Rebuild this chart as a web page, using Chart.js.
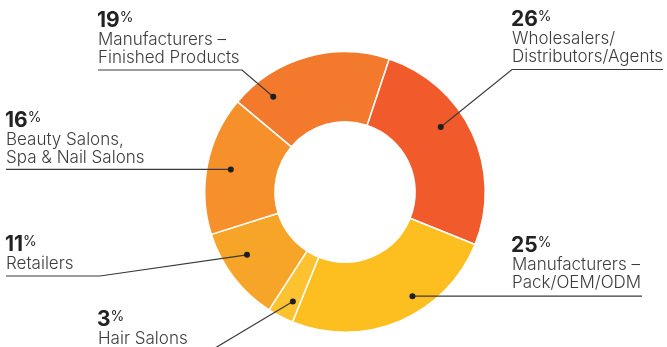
<!DOCTYPE html>
<html>
<head>
<meta charset="utf-8">
<script src="https://cdn.jsdelivr.net/npm/chart.js@4.4.1/dist/chart.umd.min.js"></script>
<style>
  html, body { margin: 0; padding: 0; background: #ffffff; }
  #wrap { width: 667px; height: 347px; position: relative; }
</style>
</head>
<body>
<div id="wrap"><canvas id="c"></canvas></div>
<script>
// ---- data ----
const categories = [
  "Manufacturers – Finished Products",
  "Wholesalers/Distributors/Agents",
  "Manufacturers – Pack/OEM/ODM",
  "Hair Salons",
  "Retailers",
  "Beauty Salons, Spa & Nail Salons"
];
const shares = [19, 26, 25, 3, 11, 16];
const labelLines = [
  ["Manufacturers –", "Finished Products"],
  ["Wholesalers/", "Distributors/Agents"],
  ["Manufacturers –", "Pack/OEM/ODM"],
  ["Hair Salons"],
  ["Retailers"],
  ["Beauty Salons,", "Spa & Nail Salons"]
];
const sliceColors = ["#F37A2D", "#F15A2B", "#FDBF20", "#FCC22F", "#F7A528", "#F5902A"];

// ---- annotation layout (positions only) ----
const annot = [
  { af: 0.19, rf: 0.70, tx: 98,  ny: 27,  path: [[242, 70], [98, 70]] },
  { af: 0.40, rf: 0.65, tx: 512, ny: 26,  path: [[512, 69.5], [663, 69.5]] },
  { af: 0.39, rf: 0.77, tx: 512, ny: 252, path: [[642, 296]] },
  { af: 0.32, rf: 0.73, tx: 98,  ny: 326, path: [[200, 357]] },
  { af: 0.62, rf: 0.66, tx: 6,   ny: 251, path: [[100, 276], [6, 276]] },
  { af: 0.50, rf: 0.66, tx: 6,   ny: 127, path: [[6, 170]] }
];

const FONT = "Inter, 'Liberation Sans', Arial, sans-serif";

const labelPlugin = {
  id: 'calloutLabels',
  afterDatasetsDraw(chart) {
    const ctx = chart.ctx;
    const arcs = chart.getDatasetMeta(0).data;
    ctx.save();
    arcs.forEach((arc, i) => {
      const a = annot[i];
      const p = arc.getProps(['x', 'y', 'startAngle', 'endAngle', 'innerRadius', 'outerRadius'], true);
      const ang = p.startAngle + a.af * (p.endAngle - p.startAngle);
      const r = p.innerRadius + a.rf * (p.outerRadius - p.innerRadius);
      const dx = p.x + Math.cos(ang) * r;
      const dy = p.y + Math.sin(ang) * r;
      // leader line
      ctx.strokeStyle = '#3a3a3a';
      ctx.lineWidth = 1.2;
      ctx.beginPath();
      ctx.moveTo(dx, dy);
      let pts = a.path;
      if (i === 2 || i === 5) pts = [[a.path[0][0], dy]];
      pts.forEach(pt => ctx.lineTo(pt[0], pt[1]));
      ctx.stroke();
      // dot
      ctx.fillStyle = '#1f1f1f';
      ctx.beginPath();
      ctx.arc(dx, dy, 3, 0, Math.PI * 2);
      ctx.fill();
      // number
      ctx.textAlign = 'left';
      ctx.textBaseline = 'alphabetic';
      ctx.fillStyle = '#222222';
      ctx.font = "bold 21px " + FONT;
      const num = String(shares[i]);
      ctx.fillText(num, a.tx - 1, a.ny);
      const w = ctx.measureText(num).width;
      ctx.font = "400 14px " + FONT;
      ctx.fillText('%', a.tx + w - 1, a.ny - 5);
      // label lines
      ctx.fillStyle = '#3c3c3c';
      ctx.font = "300 17px " + FONT;
      labelLines[i].forEach((t, k) => {
        ctx.fillText(t, a.tx, a.ny + 18 * (k + 1));
      });
    });
    ctx.restore();
  }
};

new Chart(document.getElementById('c'), {
  type: 'doughnut',
  data: {
    labels: categories,
    datasets: [{
      data: shares,
      backgroundColor: sliceColors,
      borderColor: '#ffffff',
      borderWidth: 1.5,
      hoverOffset: 0
    }]
  },
  options: {
    responsive: true,
    maintainAspectRatio: false,
    animation: false,
    cutout: '50%',
    rotation: -50,
    layout: { padding: { left: 204, right: 181, top: 51, bottom: 14 } },
    plugins: {
      legend: { display: false },
      tooltip: { enabled: false }
    }
  },
  plugins: [labelPlugin]
});
</script>
</body>
</html>
